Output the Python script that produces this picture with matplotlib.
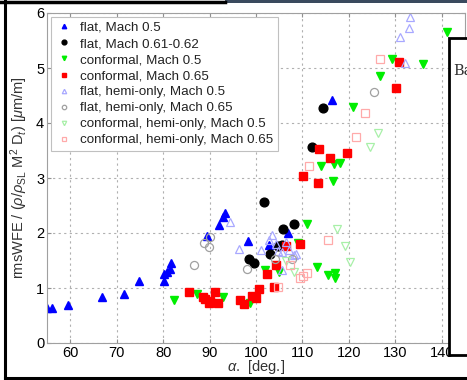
import matplotlib
matplotlib.use('Agg')
import matplotlib.pyplot as plt
from matplotlib.lines import Line2D
from matplotlib.patches import Rectangle

plt.rcParams['font.family'] = ['Liberation Sans', 'DejaVu Sans']
plt.rcParams['mathtext.fontset'] = 'custom'
plt.rcParams['mathtext.rm'] = 'Liberation Sans'
plt.rcParams['mathtext.it'] = 'Liberation Sans:italic'

# flat, Mach 0.5
flat05_x = [55.1, 56.0, 59.5, 66.8, 71.6, 74.9, 80.1, 80.2, 80.8, 81.4, 81.7,
            89.4, 92.0, 93.0, 93.3, 98.3, 102.8, 106.8, 116.4]
flat05_y = [0.63, 0.63, 0.69, 0.83, 0.89, 1.13, 1.13, 1.25, 1.30, 1.34, 1.46,
            1.95, 2.14, 2.30, 2.36, 1.85, 1.79, 2.00, 4.42]

# flat, Mach 0.61-0.62
flat06_x = [98.6, 99.5, 101.7, 103.0, 104.8, 105.5, 105.9, 108.1, 112.0, 114.4]
flat06_y = [1.52, 1.46, 2.57, 1.62, 1.76, 1.78, 2.07, 2.17, 3.56, 4.27]

# conformal, Mach 0.5
conf05_x = [82.4, 87.3, 93.0, 98.8, 102.0, 104.9, 109.0, 111.0, 113.2, 115.5,
            117.1, 117.1, 114.1, 116.7, 118.1, 116.6, 120.9, 126.6, 129.3,
            136.0, 141.2]
conf05_y = [0.78, 0.90, 0.83, 0.73, 1.33, 1.29, 1.82, 2.17, 1.38, 1.23,
            1.27, 1.18, 3.22, 3.25, 3.28, 2.95, 4.30, 4.85, 5.17,
            5.07, 5.66]

# conformal, Mach 0.65
conf065_x = [85.6, 88.6, 89.1, 89.8, 90.0, 91.1, 91.9, 96.6, 97.4, 99.1,
             100.0, 100.6, 102.4, 103.8, 104.4, 106.4, 109.4, 110.2, 113.4,
             113.6, 115.9, 119.5, 130.2, 130.7]
conf065_y = [0.92, 0.84, 0.80, 0.72, 0.77, 0.93, 0.72, 0.79, 0.71, 0.86,
             0.81, 0.99, 1.26, 1.01, 1.42, 1.77, 1.80, 3.04, 2.91,
             3.52, 3.36, 3.45, 4.63, 5.11]

# flat, hemi-only, Mach 0.5
hflat05_x = [94.4, 96.3, 101.1, 102.7, 103.4, 104.2, 104.7, 105.5, 105.6,
             106.4, 107.1, 108.1, 108.7, 131.0, 132.0, 132.9, 133.1]
hflat05_y = [2.20, 1.71, 1.70, 1.88, 1.96, 1.80, 1.68, 1.66, 1.33,
             1.84, 1.69, 1.60, 1.62, 5.56, 5.10, 5.72, 5.93]

# flat, hemi-only, Mach 0.65
hflat065_x = [86.6, 88.9, 89.8, 90.0, 98.0, 104.0, 107.7, 125.3]
hflat065_y = [1.42, 1.82, 1.75, 1.92, 1.34, 1.52, 1.53, 4.57]

# conformal, hemi-only, Mach 0.5
hconf05_x = [106.4, 108.2, 117.4, 119.2, 120.3, 124.6, 126.2]
hconf05_y = [1.50, 1.30, 2.08, 1.77, 1.48, 3.57, 3.81]

# conformal, hemi-only, Mach 0.65
hconf065_x = [104.7, 107.3, 109.5, 110.1, 110.9, 111.5, 115.6, 121.5, 123.5, 126.8]
hconf065_y = [1.01, 1.42, 1.19, 1.21, 1.27, 3.21, 1.87, 3.75, 4.18, 5.16]

W, H = 467, 380
fig = plt.figure(figsize=(W / 100, H / 100), dpi=100)
ax = fig.add_axes([47 / W, 1 - 343 / H, (465 - 47) / W, (343 - 13) / H])

ms = 5.8
ax.plot(flat05_x, flat05_y, '^', color='blue', ms=ms, mec='blue', label='flat, Mach 0.5')
ax.plot(flat06_x, flat06_y, 'o', color='black', ms=ms + 0.5, label='flat, Mach 0.61-0.62')
ax.plot(conf05_x, conf05_y, 'v', color='#00ee00', ms=ms, label='conformal, Mach 0.5')
ax.plot(conf065_x, conf065_y, 's', color='red', ms=ms - 0.7, label='conformal, Mach 0.65')
ax.plot(hflat05_x, hflat05_y, '^', mfc='none', mec='#a8a8ff', mew=0.9, ms=ms,
        label='flat, hemi-only, Mach 0.5')
ax.plot(hflat065_x, hflat065_y, 'o', mfc='none', mec='#a0a0a0', mew=0.9, ms=ms,
        label='flat, hemi-only, Mach 0.65')
ax.plot(hconf05_x, hconf05_y, 'v', mfc='none', mec='#a8f0a8', mew=0.9, ms=ms,
        label='conformal, hemi-only, Mach 0.5')
ax.plot(hconf065_x, hconf065_y, 's', mfc='none', mec='#ffaaaa', mew=0.9, ms=ms - 0.7,
        label='conformal, hemi-only, Mach 0.65')

ax.set_xlim(55, 145)
ax.set_ylim(0, 6)
ax.set_xticks(range(60, 141, 10))
ax.set_yticks(range(0, 7))
ax.grid(True, linestyle=(0, (2, 3)), color='#b0b0b0', linewidth=0.8)
ax.tick_params(direction='in', top=True, right=True, labelsize=10.5,
               color='#909090', length=3, pad=2)
for s in ax.spines.values():
    s.set_color('#a0a0a0')
    s.set_linewidth(0.8)

ax.set_xlabel(r'$\alpha$.  [deg.]', fontsize=10.5, color='#333333', labelpad=-1)
ax.set_ylabel(r'rmsWFE / ($\rho$/$\rho_{\mathrm{SL}}$ M$^2$ D$_t$) [$\mu$m/m]',
              fontsize=10.5, color='#333333', labelpad=4)

leg = ax.legend(loc='upper left', fontsize=9.6, markerscale=0.55, handlelength=1.2,
                handletextpad=0.6, labelspacing=0.28, borderpad=0.35,
                borderaxespad=0.3, fancybox=False, framealpha=1)
leg.get_frame().set_edgecolor('#c0c0c0')
leg.get_frame().set_linewidth(0.8)
for t in leg.get_texts():
    t.set_color('#222222')

# slide frame around the screenshot
fig.add_artist(Line2D([5 / W, 5 / W], [0, 1], color='black', lw=2.2))
fig.add_artist(Line2D([5 / W, 1], [1 - 378 / H, 1 - 378 / H], color='black', lw=2.2))
fig.add_artist(Line2D([0, 225 / W], [1 - 1.5 / H, 1 - 1.5 / H], color='black', lw=2.5))
fig.add_artist(Rectangle((225 / W, 1 - 3 / H), 1, 3 / H, color='#3a4a5e', lw=0))
fig.add_artist(Rectangle((449 / W, 1 - 355 / H), 30 / W, (355 - 38) / H,
                         facecolor='white', edgecolor='black', lw=2))
fig.text(453 / W, 1 - 75 / H, 'Ba', family='DejaVu Serif', fontsize=10.5, color='#333333')

plt.savefig('out.png', dpi=100)
